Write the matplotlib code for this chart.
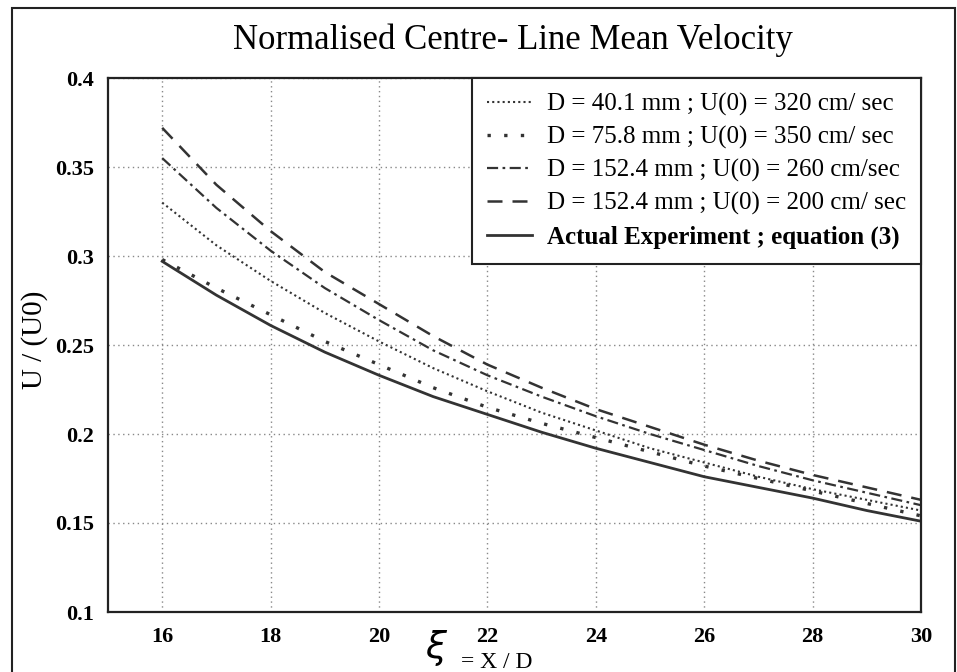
import matplotlib
matplotlib.use("Agg")
import matplotlib.pyplot as plt
from matplotlib.patches import Rectangle

# x = X / D
xi = [16, 17, 18, 19, 20, 21, 22, 23, 24, 25, 26, 27, 28, 29, 30]

# U / U(0)
d40_u320 = [0.330, 0.306, 0.286, 0.268, 0.252, 0.237, 0.224, 0.212, 0.202, 0.192, 0.184, 0.176, 0.169, 0.163, 0.157]
d76_u350 = [0.298, 0.282, 0.267, 0.252, 0.239, 0.226, 0.215, 0.206, 0.198, 0.190, 0.182, 0.175, 0.168, 0.161, 0.154]
d152_u260 = [0.355, 0.327, 0.303, 0.282, 0.264, 0.247, 0.233, 0.221, 0.210, 0.200, 0.191, 0.182, 0.174, 0.167, 0.160]
d152_u200 = [0.372, 0.340, 0.314, 0.291, 0.273, 0.255, 0.239, 0.226, 0.214, 0.204, 0.194, 0.185, 0.177, 0.170, 0.163]
actual = [0.297, 0.278, 0.261, 0.246, 0.233, 0.221, 0.211, 0.201, 0.192, 0.184, 0.176, 0.170, 0.164, 0.157, 0.151]

labels = ["D = 40.1 mm ; U(0) = 320 cm/ sec",
          "D = 75.8 mm ; U(0) = 350 cm/ sec",
          "D = 152.4 mm ; U(0) = 260 cm/sec",
          "D = 152.4 mm ; U(0) = 200 cm/ sec",
          "Actual Experiment ; equation (3)"]

plt.rcParams['font.family'] = ['Liberation Serif', 'DejaVu Serif']

fig = plt.figure(figsize=(9.57, 6.72), dpi=100)
ax = fig.add_axes([108/957, 1 - 612/672, (921-108)/957, (612-78)/672])

col = '#333333'
ax.plot(xi, d40_u320, color=col, lw=1.5, ls=(0, (1, 1.5)), label=labels[0])
ax.plot(xi, d76_u350, color=col, lw=2.4, ls=(0, (1, 4)), label=labels[1])
ax.plot(xi, d152_u260, color=col, lw=1.6, ls=(0, (5, 2, 1.2, 2)), label=labels[2])
ax.plot(xi, d152_u200, color=col, lw=1.8, ls=(0, (6, 4)), label=labels[3])
ax.plot(xi, actual, color=col, lw=2.0, ls='-', label=labels[4])

ax.set_xlim(15, 30)
ax.set_ylim(0.1, 0.4)
ax.set_xticks([16, 18, 20, 22, 24, 26, 28, 30])
ax.set_yticks([0.1, 0.15, 0.2, 0.25, 0.3, 0.35, 0.4])
ax.set_yticklabels(["0.1", "0.15", "0.2", "0.25", "0.3", "0.35", "0.4"])
ax.grid(True, color='#888888', lw=1.0, ls=(0, (1, 2.5)))
ax.tick_params(length=0, labelsize=16)
ax.tick_params(axis='x', pad=11)
ax.tick_params(axis='y', pad=10)
for t in ax.get_xticklabels() + ax.get_yticklabels():
    t.set_fontweight('bold')
for s in ax.spines.values():
    s.set_linewidth(1.6)
    s.set_color('#222222')

leg = ax.legend(loc='upper right', borderaxespad=0, fancybox=False, fontsize=18,
                handlelength=1.8, handletextpad=0.6, labelspacing=0.4, borderpad=0.6,
                framealpha=1)
leg.get_frame().set_edgecolor('#222222')
leg.get_frame().set_linewidth(1.5)
leg.get_texts()[4].set_fontweight('bold')

fig.text(513/957, 1 - 40/672, "Normalised Centre- Line Mean Velocity", ha='center', va='center', fontsize=25)
fig.text(35/957, 1 - 340/672, "U / (U0)", rotation=90, ha='center', va='center', fontsize=21)
fig.text(437/957, 1 - 648/672, r"$\xi$", ha='center', va='center', fontsize=27)
fig.text(497/957, 1 - 662/672, "= X / D", ha='center', va='center', fontsize=17)

fig.patches.append(Rectangle((12/957, -0.02), (955-12)/957, 1 - 8/672 + 0.02,
                             transform=fig.transFigure, fill=False, lw=1.5, ec='#222222'))

fig.savefig("out.png", dpi=100)
